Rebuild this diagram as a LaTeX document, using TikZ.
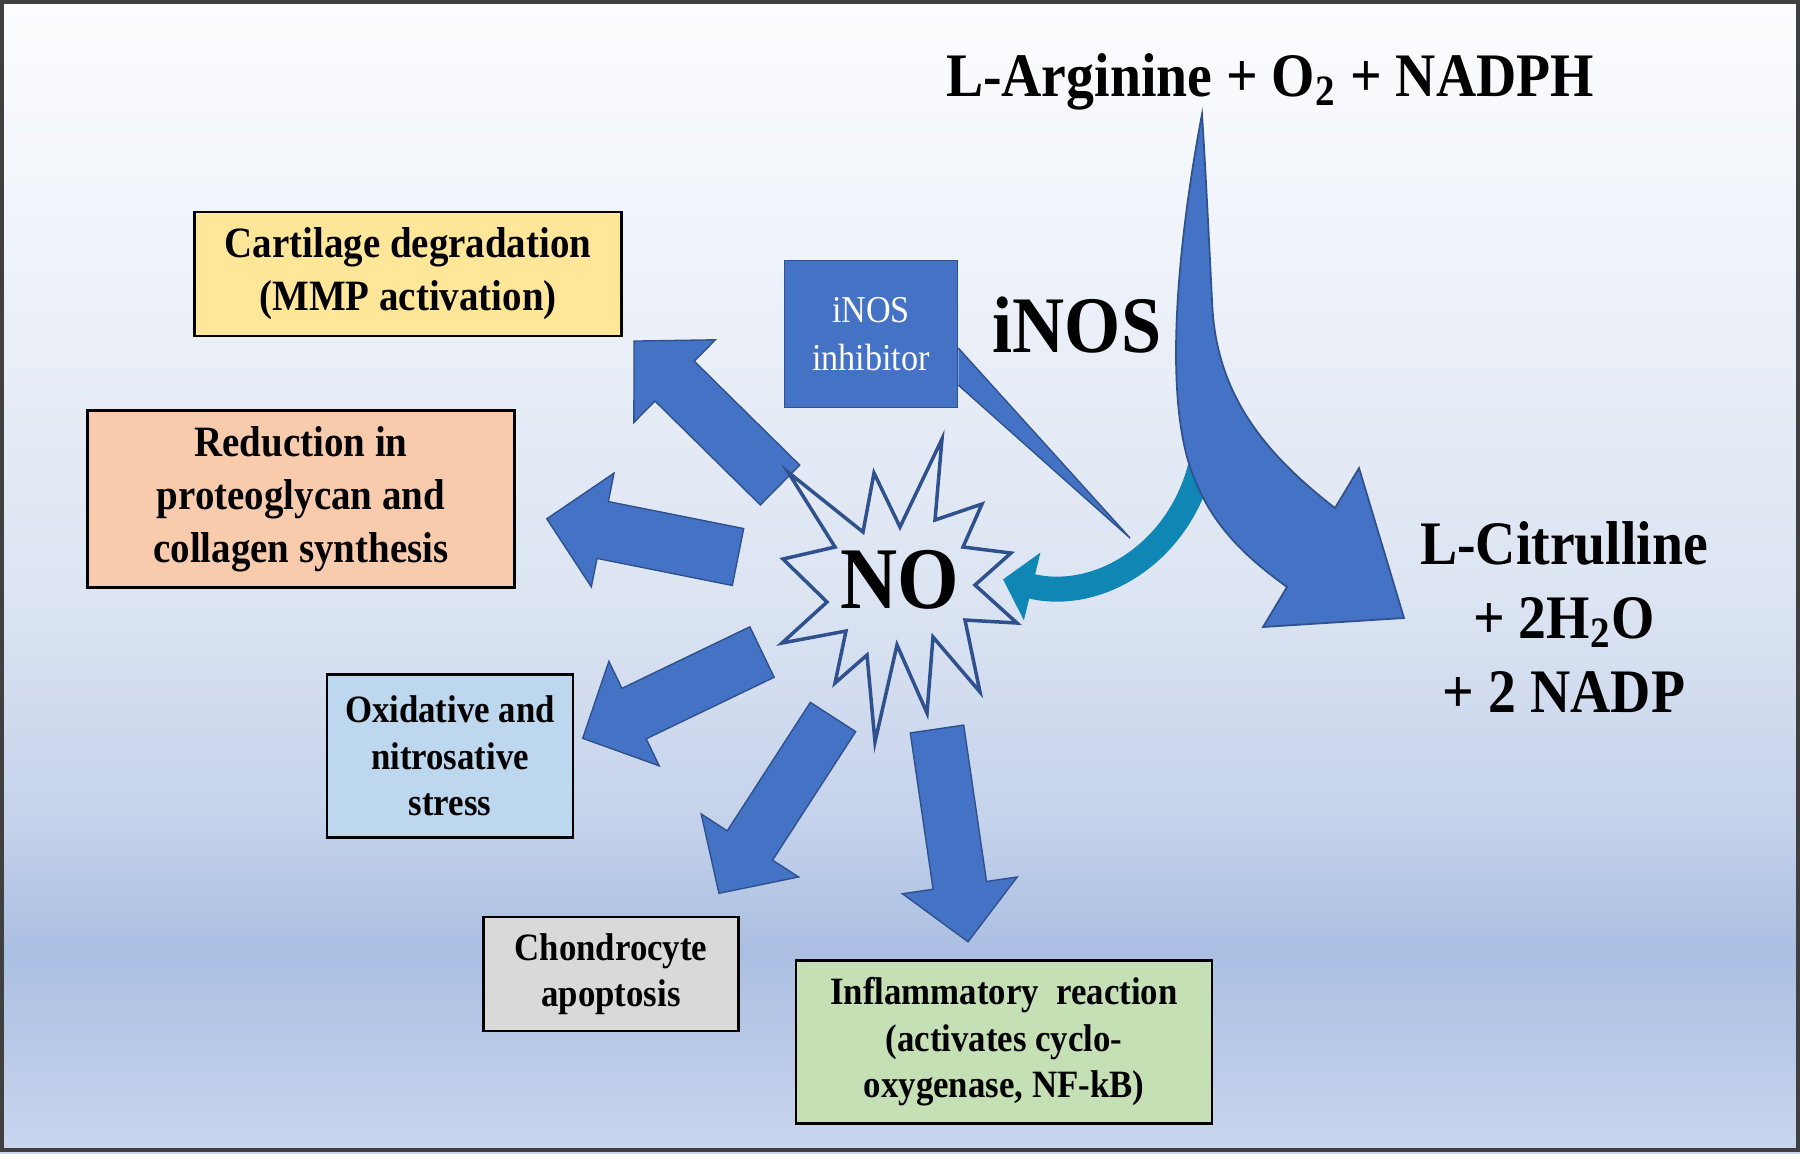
\documentclass[tikz,border=0pt]{standalone}
\usepackage{fontspec}
\setmainfont{Liberation Serif}[FakeStretch=0.9]
\usetikzlibrary{arrows.meta}

\definecolor{accentblue}{HTML}{4472C4}
\definecolor{edgeblue}{HTML}{2F528F}
\definecolor{tealarrow}{HTML}{1086B4}
\definecolor{cartfill}{HTML}{FFE699}
\definecolor{redufill}{HTML}{F8CBAD}
\definecolor{oxidfill}{HTML}{BDD7EE}
\definecolor{apopfill}{HTML}{D9D9D9}
\definecolor{inflfill}{HTML}{C5E0B4}
\definecolor{bgtop}{HTML}{FCFDFF}
\definecolor{bgmid}{HTML}{DCE4F2}
\definecolor{bglow}{HTML}{C5D2EB}
\definecolor{bgband}{HTML}{AABFE2}
\definecolor{bgbottom}{HTML}{C9D6EE}

\tikzset{
  effectbox/.style={draw=black, line width=0.7pt, align=center, inner sep=0pt,
    font=\bfseries\fontsize{12.3}{15.1}\selectfont},
  smallbox/.style={effectbox, font=\bfseries\fontsize{11}{13.2}\selectfont},
  blockarrow/.style={fill=accentblue, draw=edgeblue, line width=0.4pt},
  burst/.style={draw=edgeblue, line width=1pt, line join=miter},
  bigtext/.style={font=\bfseries\fontsize{17.6}{21}\selectfont, inner sep=0pt},
}

\newcommand{\effectarrow}[4]{%
  \begin{scope}[shift={(#1)}, rotate=#2]
    \draw[blockarrow] (0,-#4) -- ({#3-57},-#4) -- ({#3-57},-58) -- (#3,0)
      -- ({#3-57},58) -- ({#3-57},#4) -- (0,#4) -- cycle;
  \end{scope}}

\begin{document}
\begin{tikzpicture}[x=0.01cm, y=-0.01cm]
  \useasboundingbox (0,0) rectangle (1800,1153);
  \shade[top color=bgtop, bottom color=bgmid] (0,0) rectangle (1800,601);
  \shade[top color=bgmid, bottom color=bglow] (0,600) rectangle (1800,821);
  \shade[top color=bglow, bottom color=bgband] (0,820) rectangle (1800,951);
  \shade[top color=bgband, bottom color=bgbottom] (0,950) rectangle (1800,1153);
  \draw[line width=0.9pt, draw=black!75] (2,2) rectangle (1798,1150);

  \coordinate (t1) at (780,485);
  \coordinate (t2) at (738,557);
  \coordinate (t3) at (762,652);
  \coordinate (t4) at (833,717);
  \coordinate (t5) at (937,729);
  \effectarrow{t1}{135.4}{205}{28}
  \effectarrow{t2}{168.7}{195}{29}
  \effectarrow{t3}{205.7}{199}{28}
  \effectarrow{t4}{237.1}{210}{27}
  \effectarrow{t5}{278.3}{215}{27}

  \draw[burst] (942,439) -- (935,520) -- (982,504) -- (963,547) -- (1011,553)
    -- (975,585) -- (1017,623) -- (965,620) -- (980,692) -- (933,637)
    -- (927,713) -- (897,645) -- (875,742) -- (867,655) -- (835,683)
    -- (846,631) -- (782,643) -- (827,602) -- (783,559) -- (835,547)
    -- (788,472) -- (863,532) -- (874,473) -- (900,527) -- cycle;
  \node[font=\bfseries\fontsize{25}{28}\selectfont, anchor=base, inner sep=0pt] (no) at (900,608) {NO};

  \coordinate (teal) at (1203,455);
  \draw[draw=tealarrow, line width=0.25cm, -{Triangle[length=0.3cm,width=0.68cm]}]
    (teal) .. controls (1185,550) and (1100,603) .. (no.east -| 1003,580);

  \draw[fill=accentblue, draw=edgeblue, line width=0.5pt]
    (1202,114) .. controls (1180,230) and (1160,400) .. (1195,480)
    .. controls (1215,530) and (1250,560) .. (1287,587)
    -- (1263,627) -- (1404,618) -- (1359,468) -- (1335,508)
    .. controls (1260,450) and (1215,390) .. (1212,300)
    .. controls (1208,220) and (1205,160) .. cycle;

  \node[fill=accentblue, draw=edgeblue, line width=0.4pt, minimum width=1.73cm,
    minimum height=1.47cm, text=white, align=center, inner sep=0pt,
    font=\fontsize{10.8}{13.7}\selectfont] (inhib) at (871,334) {iNOS\\inhibitor};
  \coordinate (tip) at (1130,538);
  \fill[accentblue] ([yshift=-0.14cm]inhib.east) -- (tip) -- ([yshift=-0.51cm]inhib.east) -- cycle;
  \draw[edgeblue, line width=0.4pt] ([yshift=-0.14cm]inhib.east) -- (tip) -- ([yshift=-0.51cm]inhib.east);

  \node[bigtext, anchor=base] (substrate) at (1270,96) {L-Arginine + O\textsubscript{2} + NADPH};
  \node[font=\bfseries\fontsize{22.8}{26}\selectfont, anchor=base, inner sep=0pt] (enzyme) at (1077,352) {iNOS};
  \node[bigtext, align=center] (products) at (1564,617) {L-Citrulline\\+ 2H\textsubscript{2}O\\+ 2 NADP};

  \node[effectbox, fill=cartfill, minimum width=4.27cm, minimum height=1.24cm] (cart) at (408,274)
    {Cartilage degradation\\(MMP activation)};
  \node[effectbox, fill=redufill, minimum width=4.27cm, minimum height=1.77cm] (redu) at (301,499)
    {Reduction in\\proteoglycan and\\collagen synthesis};
  \node[smallbox, fill=oxidfill, minimum width=2.46cm, minimum height=1.63cm] (oxid) at (450,756)
    {Oxidative and\\nitrosative\\stress};
  \node[smallbox, fill=apopfill, minimum width=2.55cm, minimum height=1.14cm] (apop) at (611,974)
    {Chondrocyte\\apoptosis};
  \node[smallbox, fill=inflfill, minimum width=4.16cm, minimum height=1.63cm] (infl) at (1004,1042)
    {Inflammatory~ reaction\\(activates cyclo-\\oxygenase, NF-kB)};
\end{tikzpicture}
\end{document}
